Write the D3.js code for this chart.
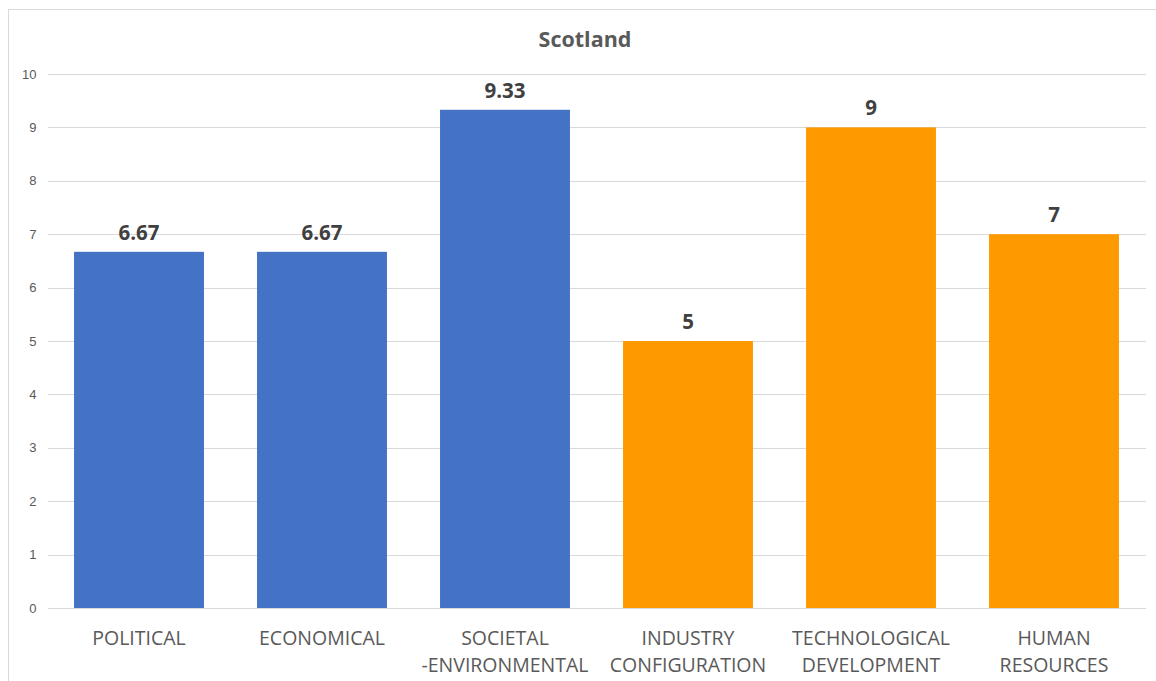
<!DOCTYPE html>
<html><head><meta charset="utf-8">
<script src="https://cdn.jsdelivr.net/npm/d3@7"></script>
<style>body{margin:0;background:#fff;}svg{display:block;font-family:"Open Sans","Noto Sans",sans-serif;}</style>
</head><body>
<svg id="c" width="1156" height="681"></svg>
<script>
const categories = [["POLITICAL"],["ECONOMICAL"],["SOCIETAL","-ENVIRONMENTAL"],["INDUSTRY","CONFIGURATION"],["TECHNOLOGICAL","DEVELOPMENT"],["HUMAN","RESOURCES"]];
const values = [6.67, 6.67, 9.33, 5, 9, 7];
const valueLabels = ["6.67","6.67","9.33","5","9","7"];
const groups = ["blue","blue","blue","orange","orange","orange"];
const yTicks = [0,1,2,3,4,5,6,7,8,9,10];
const title = "Scotland";

const svg = d3.select("#c");
svg.append("rect").attr("x",8.5).attr("y",9.5).attr("width",1160).attr("height",690)
  .attr("fill","#fff").attr("stroke","#d9d9d9").attr("stroke-width",1);

const x = d3.scaleBand().domain(d3.range(values.length)).range([47.5,1145.5]).paddingInner(0.29).paddingOuter(0.145);
const y = d3.scaleLinear().domain([0,10]).range([608,74]);
const color = d3.scaleOrdinal().domain(["blue","orange"]).range(["#4472C4","#FF9900"]);

const yAxis = d3.axisLeft(y).tickValues(yTicks).tickSize(-(1145.5-47.5)).tickPadding(11);
const gy = svg.append("g").attr("transform","translate(47.5,0)").call(yAxis);
gy.select(".domain").remove();
gy.selectAll(".tick line").attr("stroke","#d9d9d9").attr("stroke-width",1).attr("shape-rendering","crispEdges");
gy.selectAll(".tick text").attr("fill","#595959").attr("font-size",13);

svg.append("text").attr("x",585).attr("y",47).attr("text-anchor","middle")
  .attr("font-size",21.5).attr("font-weight","bold").attr("fill","#595959").text(title);

svg.selectAll("rect.bar").data(values).join("rect").attr("class","bar")
  .attr("x",(d,i)=>x(i)).attr("width",x.bandwidth())
  .attr("y",d=>y(d)).attr("height",d=>y(0)-y(d))
  .attr("fill",(d,i)=>color(groups[i]));

svg.selectAll("text.val").data(values).join("text").attr("class","val")
  .attr("x",(d,i)=>x(i)+x.bandwidth()/2).attr("y",d=>y(d)-12)
  .attr("text-anchor","middle").attr("font-size",20.5).attr("font-weight","bold").attr("fill","#404040")
  .text((d,i)=>valueLabels[i]);

const cat = svg.selectAll("text.cat").data(categories).join("text").attr("class","cat")
  .attr("text-anchor","middle").attr("font-size",19.5).attr("fill","#595959");
cat.each(function(lines,i){
  const t = d3.select(this);
  lines.forEach((l,j)=>t.append("tspan").attr("x",x(i)+x.bandwidth()/2).attr("y",645+j*27).text(l));
});
</script>
</body></html>
